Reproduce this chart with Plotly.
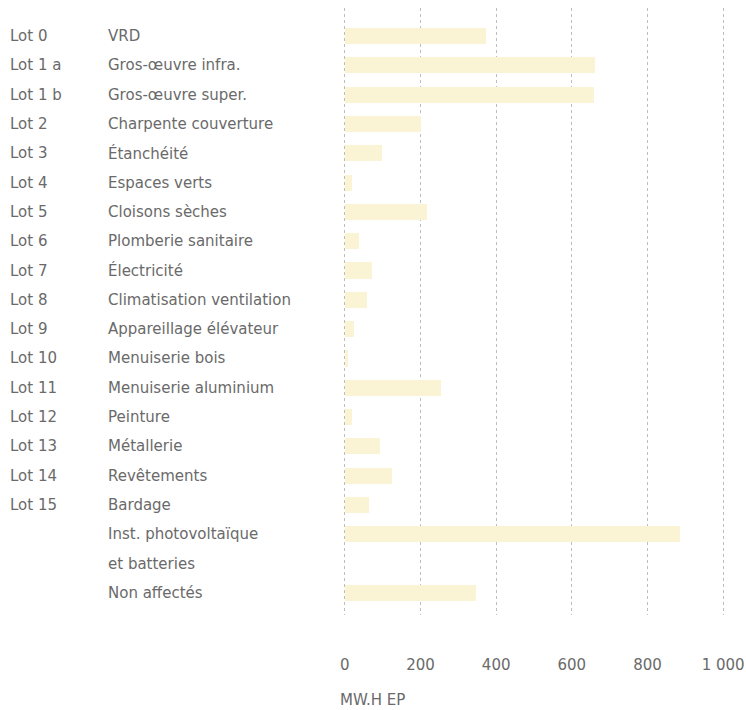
import plotly.graph_objects as go

lots = ["Lot 0", "Lot 1 a", "Lot 1 b", "Lot 2", "Lot 3", "Lot 4", "Lot 5", "Lot 6",
        "Lot 7", "Lot 8", "Lot 9", "Lot 10", "Lot 11", "Lot 12", "Lot 13", "Lot 14",
        "Lot 15", "", "", ""]
descriptions = ["VRD", "Gros-œuvre infra.", "Gros-œuvre super.", "Charpente couverture",
                "Étanchéité", "Espaces verts", "Cloisons sèches", "Plomberie sanitaire",
                "Électricité", "Climatisation ventilation", "Appareillage élévateur",
                "Menuiserie bois", "Menuiserie aluminium", "Peinture", "Métallerie",
                "Revêtements", "Bardage", "Inst. photovoltaïque", "et batteries",
                "Non affectés"]
values = [372, 661, 658, 201, 98, 19, 217, 38, 72, 59, 25, 9, 254, 19, 93, 124, 64,
          885, None, 346]
tick_vals = [0, 200, 400, 600, 800, 1000]
tick_text = ["0", "200", "400", "600", "800", "1 000"]
axis_title = "MW.H EP"

slots = list(range(len(descriptions)))
TEXT = "#6a6a6a"
FONT = "DejaVu Sans"
FS = 15
L = 343

fig = go.Figure()
fig.add_trace(go.Bar(
    x=values, y=slots, orientation="h", width=0.55,
    marker=dict(color="#FAF4D5", line=dict(width=0)),
    hoverinfo="skip",
))

annotations = []
for s, (lot, desc) in enumerate(zip(lots, descriptions)):
    if lot:
        annotations.append(dict(x=0, xref="paper", y=s, yref="y", text=lot,
                                xanchor="left", xshift=-(L - 8), showarrow=False,
                                font=dict(size=FS, color=TEXT, family=FONT)))
    annotations.append(dict(x=0, xref="paper", y=s, yref="y", text=desc,
                            xanchor="left", xshift=-(L - 106), showarrow=False,
                            font=dict(size=FS, color=TEXT, family=FONT)))
annotations.append(dict(x=0, xref="paper", y=-0.14, yref="paper", text=axis_title,
                        xanchor="left", yanchor="middle", xshift=-(L - 338),
                        showarrow=False,
                        font=dict(size=FS, color=TEXT, family=FONT)))

fig.update_layout(
    width=746, height=710,
    margin=dict(l=L, r=21, t=8, b=95, autoexpand=False),
    plot_bgcolor="white", paper_bgcolor="white",
    showlegend=False,
    bargap=0,
    font=dict(family=FONT, size=FS, color=TEXT),
    annotations=annotations,
    xaxis=dict(range=[-5, 1005], tickvals=tick_vals, ticktext=tick_text,
               automargin=False,
               showgrid=True, gridcolor="#bdbdbd", griddash="dot", gridwidth=1,
               zeroline=False, showline=False, ticks="outside", ticklen=36,
               tickcolor="rgba(0,0,0,0)", ticklabeloverflow="allow",
               tickfont=dict(size=FS, color=TEXT, family=FONT)),
    yaxis=dict(range=[19.75, -0.955], showticklabels=False, showgrid=False,
               automargin=False,
               zeroline=False, showline=False),
)

fig.write_html("out.html")
